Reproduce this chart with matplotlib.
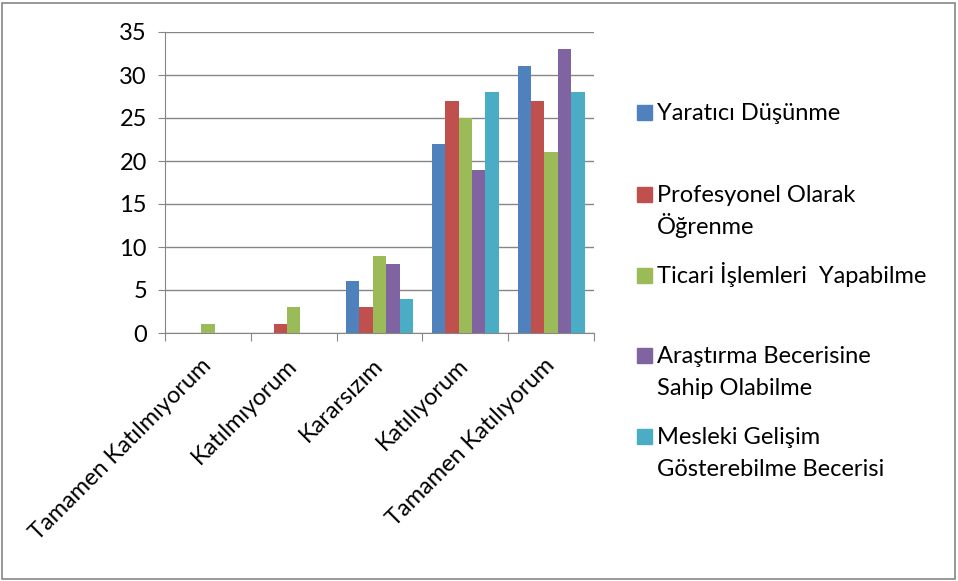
import numpy as np
import matplotlib.pyplot as plt
from matplotlib.patches import Rectangle

plt.rcParams['font.family'] = ['Lato', 'DejaVu Sans']

kategoriler = ["Tamamen Katılmıyorum", "Katılmıyorum", "Kararsızım", "Katılıyorum", "Tamamen Katılıyorum"]
seriler = ["Yaratıcı Düşünme", "Profesyonel Olarak\nÖğrenme", "Ticari İşlemleri  Yapabilme",
           "Araştırma Becerisine\nSahip Olabilme", "Mesleki Gelişim\nGösterebilme Becerisi"]
yaratici = [0, 0, 6, 22, 31]
profesyonel = [0, 1, 3, 27, 27]
ticari = [1, 3, 9, 25, 21]
arastirma = [0, 0, 8, 19, 33]
mesleki = [0, 0, 4, 28, 28]
renkler = ["#4F81BD", "#C0504D", "#9BBB59", "#8064A2", "#4BACC6"]

degerler = [yaratici, profesyonel, ticari, arastirma, mesleki]

fig = plt.figure(figsize=(9.58, 5.81), dpi=100)
ax = fig.add_axes([165 / 958, 1 - 333 / 581, (594 - 165) / 958, (333 - 32) / 581])

x = np.arange(len(kategoriler))
w = 0.156
for i, (vals, c) in enumerate(zip(degerler, renkler)):
    ax.bar(x + (i - 2) * w, vals, w, color=c, zorder=3)

ax.set_xlim(-0.5, len(kategoriler) - 0.5)
ax.set_ylim(0, 35)
ax.set_yticks(range(0, 36, 5))
ax.yaxis.grid(True, color="#868686", linewidth=1, zorder=0)
for s in ["top", "right"]:
    ax.spines[s].set_visible(False)
for s in ["left", "bottom"]:
    ax.spines[s].set_color("#868686")
ax.tick_params(axis="y", labelsize=17, color="#868686", length=5, pad=8)
ax.set_xticks(np.arange(-0.5, len(kategoriler), 1))
ax.set_xticklabels([])
ax.set_xticks(x, minor=True)
ax.set_xticklabels(kategoriler, minor=True, rotation=45, ha="right", va="center",
                   rotation_mode="anchor", fontsize=17)
ax.tick_params(axis="x", which="major", color="#868686", length=6)
ax.tick_params(axis="x", which="minor", length=0, pad=21)

# legend (elle)
leg_y = [112, 194, 275, 355, 436]
for lab, c, yy in zip(seriler, renkler, leg_y):
    fig.patches.append(Rectangle((637 / 958, 1 - (yy + 8) / 581), 15 / 958, 15 / 581,
                                 transform=fig.transFigure, color=c))
    for k, satir in enumerate(lab.split("\n")):
        fig.text(657 / 958, 1 - (yy + 8 + k * 32) / 581, satir, fontsize=17,
                 va="baseline", ha="left")

fig.patches.append(Rectangle((2 / 958, 2 / 581), 953 / 958, 576 / 581, transform=fig.transFigure,
                             fill=False, edgecolor="#868686", linewidth=1.2))

fig.savefig("out.png", dpi=100)
